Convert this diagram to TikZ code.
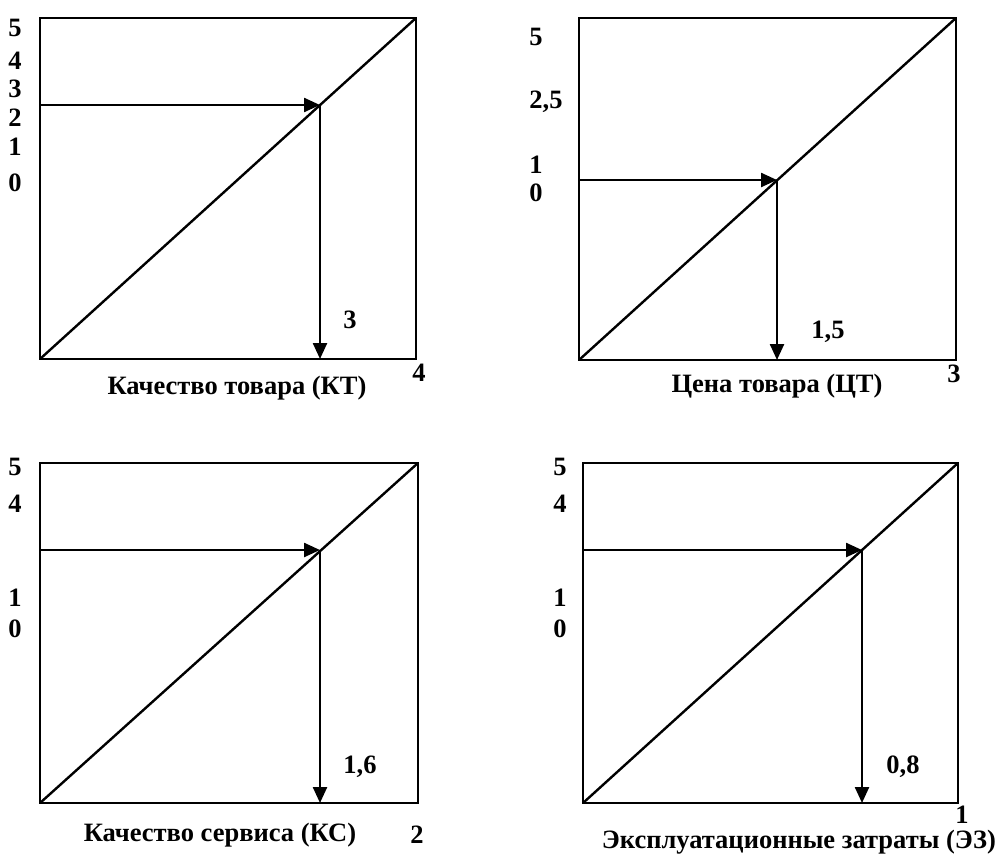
\documentclass[tikz,border=0pt]{standalone}
\usepackage{fontspec}
\setmainfont{Liberation Serif}
\usetikzlibrary{arrows.meta}
\tikzset{
  lbl/.style={font=\fontsize{26.5}{30}\selectfont\bfseries, inner sep=0pt},
  frame/.style={line width=2.4pt},
  pointer/.style={line width=2.4pt, -{Triangle[length=16pt,width=14pt]}},
}
\begin{document}
\begin{tikzpicture}[x=1pt,y=-1pt]
    \useasboundingbox (0,0) rectangle (1003,864);

    % panel 1: quality of goods
    \coordinate (a1) at (40,359);
    \coordinate (b1) at (416,18);
    \coordinate (s1) at (40,105);
    \coordinate (p1) at (320,105);
    \coordinate (f1) at (320,359);
    \draw[frame] (a1) rectangle (b1);
    \draw[frame] (a1) -- (b1);
    \draw[pointer] (s1) -- (p1);
    \draw[pointer] (p1) -- (f1);
    \node[lbl] (kt5) at (15,28) {5};
    \node[lbl] (kt4) at (15,61) {4};
    \node[lbl] (kt3) at (15,89) {3};
    \node[lbl] (kt2) at (15,118) {2};
    \node[lbl] (kt1) at (15,147) {1};
    \node[lbl] (kt0) at (15,183) {0};
    \node[lbl] (ktv) at (350,320) {3};
    \node[lbl] (ktm) at (419,373) {4};
    \node[lbl] (ktn) at (237,388) {Качество товара (КТ)};

    % panel 2: price of goods
    \coordinate (a2) at (579,360);
    \coordinate (b2) at (956,18);
    \coordinate (s2) at (579,180);
    \coordinate (p2) at (777,180);
    \coordinate (f2) at (777,360);
    \draw[frame] (a2) rectangle (b2);
    \draw[frame] (a2) -- (b2);
    \draw[pointer] (s2) -- (p2);
    \draw[pointer] (p2) -- (f2);
    \node[lbl] (ct5) at (536,37) {5};
    \node[lbl] (ct25) at (546,102) {2,5};
    \node[lbl] (ct1) at (536,165) {1};
    \node[lbl] (ct0) at (536,193) {0};
    \node[lbl] (ctv) at (828,332) {1,5};
    \node[lbl] (ctm) at (954,374) {3};
    \node[lbl] (ctn) at (777,386) {Цена товара (ЦТ)};

    % panel 3: quality of service
    \coordinate (a3) at (40,803);
    \coordinate (b3) at (418,463);
    \coordinate (s3) at (40,550);
    \coordinate (p3) at (320,550);
    \coordinate (f3) at (320,803);
    \draw[frame] (a3) rectangle (b3);
    \draw[frame] (a3) -- (b3);
    \draw[pointer] (s3) -- (p3);
    \draw[pointer] (p3) -- (f3);
    \node[lbl] (ks5) at (15,467) {5};
    \node[lbl] (ks4) at (15,504) {4};
    \node[lbl] (ks1) at (15,598) {1};
    \node[lbl] (ks0) at (15,629) {0};
    \node[lbl] (ksv) at (360,767) {1,6};
    \node[lbl] (ksm) at (417,835) {2};
    \node[lbl] (ksn) at (220,835) {Качество сервиса (КС)};

    % panel 4: operating costs
    \coordinate (a4) at (583,803);
    \coordinate (b4) at (958,463);
    \coordinate (s4) at (583,550);
    \coordinate (p4) at (862,550);
    \coordinate (f4) at (862,803);
    \draw[frame] (a4) rectangle (b4);
    \draw[frame] (a4) -- (b4);
    \draw[pointer] (s4) -- (p4);
    \draw[pointer] (p4) -- (f4);
    \node[lbl] (ez5) at (560,467) {5};
    \node[lbl] (ez4) at (560,504) {4};
    \node[lbl] (ez1) at (560,598) {1};
    \node[lbl] (ez0) at (560,629) {0};
    \node[lbl] (ezv) at (903,767) {0,8};
    \node[lbl] (ezm) at (962,815) {1};
    \node[lbl] (ezn) at (799,842) {Эксплуатационные затраты (ЭЗ)};
\end{tikzpicture}
\end{document}
